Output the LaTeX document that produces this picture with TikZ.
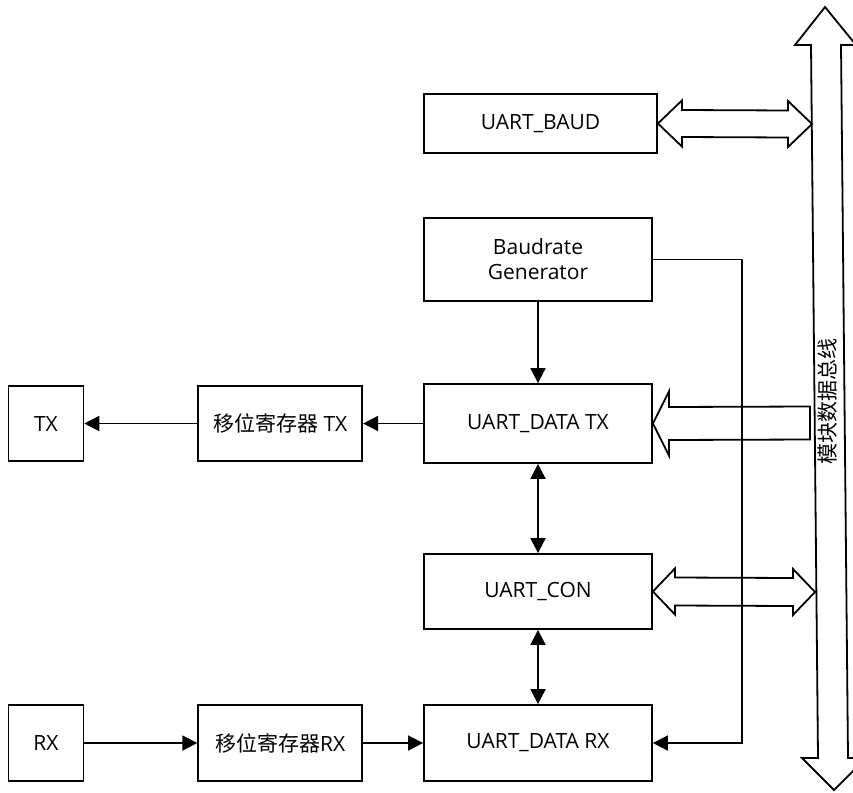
\documentclass[tikz,border=0pt]{standalone}
\usepackage{fontspec}
\setmainfont{Open Sans}
\newfontfamily\cjk{Noto Sans CJK SC}
\usetikzlibrary{positioning,calc,arrows.meta}
\tikzset{block/.style={draw,line width=1.8pt,minimum width=228pt,minimum height=78pt,inner sep=0pt,font=\fontsize{21}{25}\selectfont,align=center},
	pinbox/.style={block,minimum width=75pt,minimum height=75pt},
	shiftbox/.style={block,minimum width=164pt,minimum height=75pt},
	arr/.style={line width=1.8pt,-{Triangle[length=15pt,width=15pt]}},
	biarr/.style={line width=1.8pt,{Triangle[length=15pt,width=15pt]}-{Triangle[length=15pt,width=15pt]}},
	fat/.style={draw,line width=1.8pt,fill=white,line join=miter},
	x=1pt,y=-1pt}

\begin{document}
\begin{tikzpicture}
	\useasboundingbox (0,0) rectangle (853,792);
	% bus
	\draw[fat] (825,7) -- (856,45) -- (841,45) -- (848,758) -- (866,758) -- (834,790)
		-- (802,758) -- (818,758) -- (811,45) -- (795,45) -- cycle;
	\node[rotate=90,font=\cjk\fontsize{21}{25}\selectfont] (bus) at (828,401) {模块数据总线};
	\coordinate (jbaud) at (812,124);
	\coordinate (jtx) at (814,423);
	\coordinate (jcon) at (815,592);
	% blocks
	\node[block,minimum width=233pt,minimum height=59pt] (baud) at (540.5,123.5) {UART\_BAUD};
	\node[block,minimum height=83pt] (gen) at (538,259.5) {Baudrate\\Generator};
	\node[block,minimum height=79pt] (datatx) at (538,423.5) {UART\_DATA TX};
	\node[block,minimum height=75pt] (con) at (538,591.5) {UART\_CON};
	\node[block,minimum height=76pt] (datarx) at (538,743) {UART\_DATA RX};
	\node[shiftbox,left=60pt of datatx] (shtx) {{\cjk 移位寄存器} TX};
	\node[pinbox,left=113pt of shtx] (tx) {TX};
	\node[shiftbox,minimum height=76pt,left=60pt of datarx] (shrx) {{\cjk 移位寄存器}RX};
	\node[pinbox,minimum height=76pt,left=113pt of shrx] (rx) {RX};
	% wide arrows
	\draw[fat] (baud.east) -- ++(24,-23) -- ++(0,9.5) -- ($(jbaud)+(-24,-13.5)$) -- ++(0,-9.5) -- (jbaud)
		-- ++(-24,23) -- ++(0,-9.5) -- ($(baud.east)+(24,13.5)$) -- ++(0,9.5) -- cycle;
	\draw[fat] (con.east) -- ++(22,-23) -- ++(0,9) -- ($(jcon)+(-22,-14)$) -- ++(0,-9) -- (jcon)
		-- ++(-22,23) -- ++(0,-9) -- ($(con.east)+(22,14)$) -- ++(0,9) -- cycle;
	\draw[fat] (datatx.east) -- ++(16,-32) -- ++(0,15.5) -- ($(jtx)+(-4,-16.5)$) -- ++(0,33)
		-- ($(datatx.east)+(16,16.5)$) -- ++(0,15.5) -- cycle;
	% connectors
	\coordinate (loop) at (742,743);
	\draw[arr] (gen.east) -| (loop) -- (datarx.east);
	\draw[arr] (gen) -- (datatx);
	\draw[biarr] (datatx) -- (con);
	\draw[biarr] (con) -- (datarx);
	\draw[arr] (datatx) -- (shtx);
	\draw[arr] (shtx) -- (tx);
	\draw[arr] (rx) -- (shrx);
	\draw[arr] (shrx) -- (datarx);
\end{tikzpicture}
\end{document}
